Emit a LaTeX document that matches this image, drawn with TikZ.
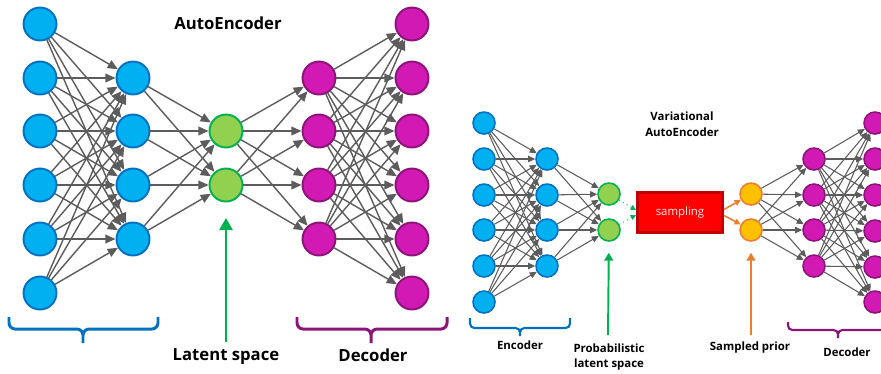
\documentclass[tikz,border=0pt]{standalone}
\usepackage{fontspec}
\setmainfont{Open Sans}
\usetikzlibrary{arrows.meta,calc}

\definecolor{encblue}{RGB}{0,176,240}
\definecolor{encline}{RGB}{0,112,192}
\definecolor{latgreen}{RGB}{146,208,80}
\definecolor{latline}{RGB}{0,176,80}
\definecolor{decpink}{RGB}{210,25,180}
\definecolor{decline}{RGB}{140,20,120}
\definecolor{priorfill}{RGB}{255,192,0}
\definecolor{priorline}{RGB}{237,125,49}
\definecolor{linkgray}{RGB}{92,92,92}
\definecolor{sampred}{RGB}{255,0,0}
\definecolor{sampline}{RGB}{192,0,0}

\begin{document}
\begin{tikzpicture}[x=0.02cm, y=-0.02cm]
    \tikzstyle{neuron}=[circle, draw, line width=1.1pt, inner sep=0pt, minimum size=0.66cm]
    \tikzstyle{vneuron}=[circle, draw, line width=0.9pt, inner sep=0pt, minimum size=0.44cm]
    \tikzstyle{enc}=[fill=encblue, draw=encline]
    \tikzstyle{lat}=[fill=latgreen, draw=latline]
    \tikzstyle{dec}=[fill=decpink, draw=decline]
    \tikzstyle{prior}=[fill=priorfill, draw=priorline]
    \tikzstyle{link}=[draw=linkgray, line width=0.8pt, -{Triangle[length=5.8pt, width=5pt]}]
    \tikzstyle{vlink}=[draw=linkgray, line width=0.6pt, -{Triangle[length=4pt, width=3.6pt]}]
    \tikzstyle{bigbrace}=[line width=1.7pt, rounded corners=3.5pt]
    \tikzstyle{smallbrace}=[line width=1.2pt, rounded corners=2.5pt]
    \tikzstyle{bigup}=[line width=1.7pt, -{Triangle[length=7pt, width=7.5pt]}]
    \tikzstyle{smallup}=[line width=1.1pt, -{Triangle[length=4.5pt, width=5pt]}]
    \tikzstyle{biglabel}=[font=\fontsize{9.5}{11}\selectfont\bfseries, inner sep=1pt]
    \tikzstyle{smalllabel}=[font=\fontsize{6.5}{9}\selectfont\bfseries, inner sep=1pt, align=center]

    \clip (0,0) rectangle (881,373);

    % plain autoencoder
    \foreach \i/\y in {1/24, 2/78, 3/131, 4/185, 5/239, 6/293}
        \node[neuron, enc] (in\i) at (40,\y) {};
    \foreach \i/\y in {1/78, 2/131, 3/185, 4/239}
        \node[neuron, enc] (ha\i) at (133,\y) {};
    \node[neuron, lat] (z1) at (226,131) {};
    \node[neuron, lat] (z2) at (226,185) {};
    \foreach \i/\y in {1/78, 2/131, 3/185, 4/239}
        \node[neuron, dec] (hb\i) at (319,\y) {};
    \foreach \i/\y in {1/24, 2/78, 3/131, 4/185, 5/239, 6/293}
        \node[neuron, dec] (out\i) at (412,\y) {};

    \foreach \i in {1,...,6}
        \foreach \j in {1,...,4}
            \draw[link] (in\i) -- (ha\j);
    \foreach \i in {1,...,4}
        \foreach \j in {1,2}
            \draw[link] (ha\i) -- (z\j);
    \foreach \i in {1,2}
        \foreach \j in {1,...,4}
            \draw[link] (z\i) -- (hb\j);
    \foreach \i in {1,...,4}
        \foreach \j in {1,...,6}
            \draw[link] (hb\i) -- (out\j);

    \node[biglabel] (aetitle) at (228,23) {AutoEncoder};
    \node[biglabel] (latent) at (226,357) {Latent space};
    \node[biglabel] (declbl) at (373,355) {Decoder};

    % braces under the layers
    \draw[bigbrace, encline] (9,317) |- (83,329) -- (83,343) (158,317) |- (83,329) -- (83,343);
    \draw[bigbrace, decline] (297,317) |- (371,329) -- (371,343) (447,317) |- (371,329) -- (371,343);

    \coordinate (zfoot) at (226,342);
    \draw[bigup, draw=latline, fill=latline, shorten >=8.8pt] (zfoot) -- (z2);

    % variational autoencoder
    \foreach \i/\y in {1/123, 2/159, 3/195, 4/230, 5/266, 6/302}
        \node[vneuron, enc] (vin\i) at (484,\y) {};
    \foreach \i/\y in {1/159, 2/195, 3/230, 4/266}
        \node[vneuron, enc] (vha\i) at (547,\y) {};
    \node[vneuron, lat] (vz1) at (609,194) {};
    \node[vneuron, lat] (vz2) at (609,230) {};
    \node[draw=sampline, fill=sampred, line width=1.8pt, minimum width=1.7cm,
          minimum height=0.8cm, text=red!8, font=\fontsize{6.5}{8}\selectfont]
        (samp) at (680,212.5) {sampling};
    \node[vneuron, prior] (vs1) at (751,194) {};
    \node[vneuron, prior] (vs2) at (751,230) {};
    \foreach \i/\y in {1/159, 2/195, 3/230, 4/266}
        \node[vneuron, dec] (vhb\i) at (814,\y) {};
    \foreach \i/\y in {1/123, 2/159, 3/195, 4/231, 5/267, 6/302}
        \node[vneuron, dec] (vout\i) at (875,\y) {};

    \foreach \i in {1,...,6}
        \foreach \j in {1,...,4}
            \draw[vlink] (vin\i) -- (vha\j);
    \foreach \i in {1,...,4}
        \foreach \j in {1,2}
            \draw[vlink] (vha\i) -- (vz\j);
    \foreach \i in {1,2}
        \foreach \j in {1,...,4}
            \draw[vlink] (vs\i) -- (vhb\j);
    \foreach \i in {1,...,4}
        \foreach \j in {1,...,6}
            \draw[vlink] (vhb\i) -- (vout\j);

    % into and out of the sampler
    \draw[latline, line width=0.5pt, dotted, -{Triangle[length=3pt, width=3pt]}]
        (vz1) -- ($(samp.west)+(0,-2.5)$);
    \draw[latline, line width=0.5pt, dotted, -{Triangle[length=3pt, width=3pt]}]
        (vz2) -- ($(samp.west)+(0,2.5)$);
    \draw[priorline, line width=0.9pt, -{Triangle[length=3.5pt, width=3.5pt]}]
        ($(samp.east)+(0,-3)$) -- (vs1);
    \draw[priorline, line width=0.9pt, -{Triangle[length=3.5pt, width=3.5pt]}]
        ($(samp.east)+(0,3)$) -- (vs2);

    \node[smalllabel] (vaetitle) at (682,124) {Variational\\AutoEncoder};
    \node[smalllabel] (enclbl) at (520,345) {Encoder};
    \node[smalllabel] (problbl) at (609,357) {Probabilistic\\latent space};
    \node[smalllabel] (priorlbl) at (750,348) {Sampled prior};
    \node[smalllabel] (vdeclbl) at (847,352) {Decoder};

    \draw[smallbrace, encline] (470,318) |- (520,328) -- (520,336) (570,318) |- (520,328) -- (520,336);
    \draw[smallbrace, decline] (788,322) |- (838,330) -- (838,338) (888,322) |- (838,330) -- (838,338);

    \coordinate (vzfoot) at (608,335);
    \coordinate (vsfoot) at (751,335);
    \draw[smallup, draw=latline, fill=latline, shorten >=6.2pt] (vzfoot) -- (vz2);
    \draw[smallup, draw=priorline, fill=priorline, shorten >=6.2pt] (vsfoot) -- (vs2);
\end{tikzpicture}
\end{document}
